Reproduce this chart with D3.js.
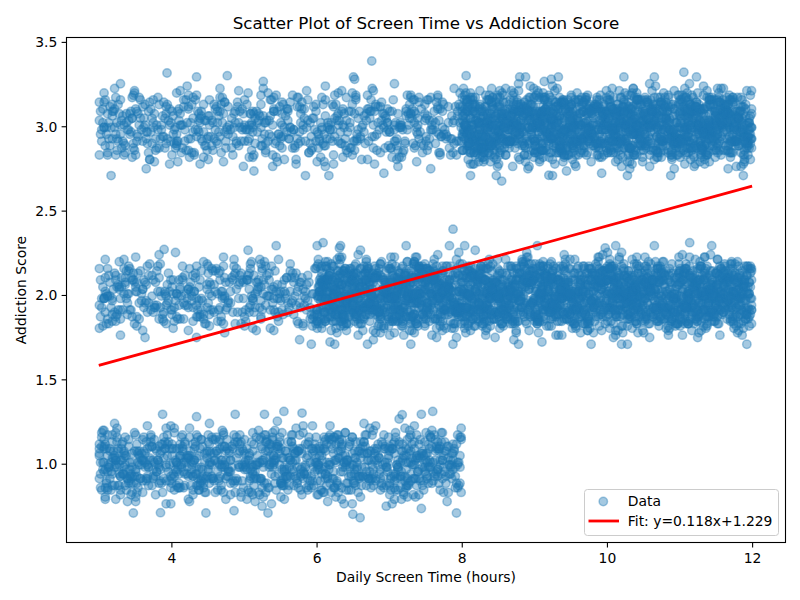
<!DOCTYPE html>
<html><head><meta charset="utf-8">
<script src="https://cdn.jsdelivr.net/npm/d3@7"></script>
<style>body{margin:0;background:#fff}svg text{font-family:"DejaVu Sans",sans-serif;fill:#000}</style>
</head><body>
<svg id="chart" width="800" height="600"></svg>
<script>
// ---- data ----
const titleText = "Scatter Plot of Screen Time vs Addiction Score";
const xLabel = "Daily Screen Time (hours)";
const yLabel = "Addiction Score";
const xTicks = [4, 6, 8, 10, 12];
const yTicks = [1.0, 1.5, 2.0, 2.5, 3.0, 3.5];
const xLimits = [2.555, 12.46];
const yLimits = [0.533, 3.526];
const fitSlope = 0.118;
const fitIntercept = 1.229;
const fitRange = [3, 12];
const legendLabels = ["Data", "Fit: y=0.118x+1.229"];
const scoreLevels = [1, 2, 3];
const firstHour = 3;
// codes: x char = position inside a one-hour segment, y char = deviation from the score level
const xCode = "0Aaj1Bb2Ccm3Dd4Eeh5Ff6Ggo7Hp8Irk9JsKtLnuMvNwOixPyQzRqSTUVWXlYZ";
const yCode = "01234ABCDEFGHIJKLMabcdefghijklmnopqrstuvwxyzNOPQRSTUVWXYZ56789";
const yStep = 0.0136;

// score 1 : hours 3-8
const score1X = [
"30aRfLxV8U b5GJn2QyW9 kE7tZ1CpDi X4Svc6HmB0 uNgTeKzA3F 8Iw1PrYdM5 oj2V9EsaW4 l6BqRx3OhG J0ZcN7LyfT 2dHkXs8EzQ 5mYbUg1KvC 9rAp4SiO6j eWwMu3FxIn 7hPaZ2DtLq 1yG4lVoB8R",
"cT6fJ0wNk3 sE9Qg5ArXm i2UdK7zHbY vO1jS8eCp4 MaF6xnWvtG 0qLh9BuR5k ZfI2oNc7Vy 4DsP1iTgXu bKe0Yw5mJr xwzOl9EaS6 hU7cG2tFqN 1pWk4BvZdo Lo6yAilMr3 Qg9Tn5CsHe u2XbI7jPz4",
"J0ZcN7LyfT 2dHkXs8EzQ 5mYbUg1KvC 9rAp4SiO6j eWwMu3FxIn 7hPaZ2DtLq 1yG4lVoB8R cT6fJ0wNk3 sE9Qg5ArXm i2UdK7zHbY vO1jS8eCp4 MaF6xnWvtG 0qLh9BuR5k ZfI2oNc7Vy 4DsP1iTgXu",
"bKe0Yw5mJr xwzOl9EaS6 hU7cG2tFqN 1pWk4BvZdo Lo6yAilMr3 Qg9Tn5CsHe u2XbI7jPz4 30aRfLxV8U b5GJn2QyW9 kE7tZ1CpDi X4Svc6HmB0 uNgTeKzA3F 8Iw1PrYdM5 oj2V9EsaW4 l6BqRx3OhG",
"X4Svc6HmB0 uNgTeKzA3F 8Iw1PrYdM5 oj2V9EsaW4 l6BqRx3OhG J0ZcN7LyfT 2dHkXs8EzQ 5mYbUg1KvC 9rAp4SiO6j eWwMu3FxIn 7hPaZ2DtLq 1yG4lVoB8R cT6fJ0wNk3 sE9Qg5ArXm i2UdK7zHbY"
];
const score1Y = [
"dtNliaowrg eMynsqjhmv kPfoctlgpu zKemsphnkv rlbVdgoiwt nEujxsmqfh gOjtalqufo wsLknhpydm crQgleotiv zdnJqshwmj obtfykupgl hNcimsdwrn tIpglzvkeo uinyhbsmfr xMqojtgvle",
"talwrgodzi myesqbnhvj ucplgxoktf hznkvasmep wboigyltrd qfxmscnuhj luaqtozgfj pnyhdmwksb ixoetlvcgr smjawnqhzd kylugpfotb ncrwhmxsid oezktlagpv rbmfsnyhui jvlcgxoteq",
"pnyhdmwksb ixoetlvcgr smjawnqhzd kylugpfotb ncrwhmxsid oezktlagpv rbmfsnyhui jvlcgxoteq dtNliaowrg eMynsqjhmv kPfoctlgpu zKemsphnkv rlbVdgoiwt nEujxsmqfh gOjtalqufo",
"wsLknhpydm crQgleotiv zdnJqshwmj obtfykupgl hNcimsdwrn tIpglzvkeo uinyhbsmfr xMqojtgvle talwrgodzi myesqbnhvj ucplgxoktf hznkvasmep wboigyltrd qfxmscnuhj luaqtozgfj",
"ncrwhmxsid oezktlagpv rbmfsnyhui jvlcgxoteq dtNliaowrg eMynsqjhmv kPfoctlgpu zKemsphnkv rlbVdgoiwt nEujxsmqfh gOjtalqufo wsLknhpydm crQgleotiv zdnJqshwmj obtfykupgl"
];
const score1XMore = [
"cT6fJ0wNk3 sE9Qg5ArXm i2UdK7zHbY vO1jS8eCp4 MaF6xnWvtG 0qLh9BuR5k 1pWk4BvZdo",
"30aRfLxV8U b5GJn2QyW9 kE7tZ1CpDi X4Svc6HmB0 uNgTeKzA3F 8Iw1PrYdM5 xwzOl9EaS6",
"bKe0Yw5mJr xwzOl9EaS6 hU7cG2tFqN 1pWk4BvZdo Lo6yAilMr3 Qg9Tn5CsHe 2dHkXs8EzQ",
"J0ZcN7LyfT 2dHkXs8EzQ 5mYbUg1KvC 9rAp4SiO6j eWwMu3FxIn 7hPaZ2DtLq Lo6yAilMr3",
"vO1jS8eCp4 MaF6xnWvtG 0qLh9BuR5k ZfI2oNc7Vy 4DsP1iTgXu bKe0Yw5mJr kE7tZ1CpDi"
];
const score1YMore = [
"talwrgodzi myesqbnhvj ucplgxoktf hznkvasmep wboigyltrd qfxmscnuhj OMPLNKQIRJ",
"dtNliaowrg eMynsqjhmv kPfoctlgpu zKemsphnkv rlbVdgoiwt nEujxsmqfh KOMNLRJPFU",
"wsLknhpydm crQgleotiv zdnJqshwmj obtfykupgl hNcimsdwrn tIpglzvkeo NMOLQKSHNM",
"pnyhdmwksb ixoetlvcgr smjawnqhzd kylugpfotb ncrwhmxsid oezktlagpv LNKOMPHRIQ",
"hNcimsdwrn tIpglzvkeo uinyhbsmfr xMqojtgvle talwrgodzi myesqbnhvj NLMOPKTGMN"
];

// score 2 : hours 3-12
const score2X = [
"hU7cG2tFqN 1pWk4BvZdo Lo6yAilMr3 Qg9Tn5CsHe u2XbI7jPz4 30aRfLxV8U b5GJn2QyW9 kE7tZ1CpDi X4Svc6HmB0 uNgTeKzA3F",
"cT6fJ0wNk3 sE9Qg5ArXm i2UdK7zHbY vO1jS8eCp4 MaF6xnWvtG 0qLh9BuR5k ZfI2oNc7Vy 4DsP1iTgXu bKe0Yw5mJr xwzOl9EaS6",
"kE7tZ1CpDi X4Svc6HmB0 uNgTeKzA3F 8Iw1PrYdM5 oj2V9EsaW4 l6BqRx3OhG J0ZcN7LyfT 2dHkXs8EzQ 5mYbUg1KvC 9rAp4SiO6j",
"uNgTeKzA3F 8Iw1PrYdM5 oj2V9EsaW4 l6BqRx3OhG J0ZcN7LyfT 2dHkXs8EzQ 5mYbUg1KvC 9rAp4SiO6j eWwMu3FxIn 7hPaZ2DtLq 1yG4lVoB8R cT6fJ0wNk3 sE9Qg5ArXm i2UdK7zHbY vO1jS8eCp4 MaF6xnWvtG 0qLh9BuR5k ZfI2oNc7Vy 4DsP1iTgXu bKe0Yw5mJr xwzOl9EaS6 hU7cG2tFqN 1pWk4BvZdo Lo6yAilMr3 Qg9Tn5CsHe u2XbI7jPz4 30aRfLxV8U b5GJn2QyW9 kE7tZ1CpDi X4Svc6HmB0",
"9rAp4SiO6j eWwMu3FxIn 7hPaZ2DtLq 1yG4lVoB8R cT6fJ0wNk3 sE9Qg5ArXm i2UdK7zHbY vO1jS8eCp4 MaF6xnWvtG 0qLh9BuR5k ZfI2oNc7Vy 4DsP1iTgXu bKe0Yw5mJr xwzOl9EaS6 hU7cG2tFqN 1pWk4BvZdo Lo6yAilMr3 Qg9Tn5CsHe u2XbI7jPz4 30aRfLxV8U b5GJn2QyW9 kE7tZ1CpDi X4Svc6HmB0 uNgTeKzA3F 8Iw1PrYdM5 oj2V9EsaW4 l6BqRx3OhG J0ZcN7LyfT 2dHkXs8EzQ 5mYbUg1KvC",
"vO1jS8eCp4 MaF6xnWvtG 0qLh9BuR5k ZfI2oNc7Vy 4DsP1iTgXu bKe0Yw5mJr xwzOl9EaS6 hU7cG2tFqN 1pWk4BvZdo Lo6yAilMr3 Qg9Tn5CsHe u2XbI7jPz4 30aRfLxV8U b5GJn2QyW9 kE7tZ1CpDi X4Svc6HmB0 uNgTeKzA3F 8Iw1PrYdM5 oj2V9EsaW4 l6BqRx3OhG J0ZcN7LyfT 2dHkXs8EzQ 5mYbUg1KvC 9rAp4SiO6j eWwMu3FxIn 7hPaZ2DtLq 1yG4lVoB8R cT6fJ0wNk3 sE9Qg5ArXm i2UdK7zHbY",
"hU7cG2tFqN 1pWk4BvZdo Lo6yAilMr3 Qg9Tn5CsHe u2XbI7jPz4 30aRfLxV8U b5GJn2QyW9 kE7tZ1CpDi X4Svc6HmB0 uNgTeKzA3F 8Iw1PrYdM5 oj2V9EsaW4 l6BqRx3OhG J0ZcN7LyfT 2dHkXs8EzQ 5mYbUg1KvC 9rAp4SiO6j eWwMu3FxIn 7hPaZ2DtLq 1yG4lVoB8R cT6fJ0wNk3 sE9Qg5ArXm i2UdK7zHbY vO1jS8eCp4 MaF6xnWvtG 0qLh9BuR5k ZfI2oNc7Vy 4DsP1iTgXu bKe0Yw5mJr xwzOl9EaS6",
"kE7tZ1CpDi X4Svc6HmB0 uNgTeKzA3F 8Iw1PrYdM5 oj2V9EsaW4 l6BqRx3OhG J0ZcN7LyfT 2dHkXs8EzQ 5mYbUg1KvC 9rAp4SiO6j eWwMu3FxIn 7hPaZ2DtLq 1yG4lVoB8R cT6fJ0wNk3 sE9Qg5ArXm i2UdK7zHbY vO1jS8eCp4 MaF6xnWvtG 0qLh9BuR5k ZfI2oNc7Vy 4DsP1iTgXu bKe0Yw5mJr xwzOl9EaS6 hU7cG2tFqN 1pWk4BvZdo Lo6yAilMr3 Qg9Tn5CsHe u2XbI7jPz4 30aRfLxV8U b5GJn2QyW9",
"2dHkXs8EzQ 5mYbUg1KvC 9rAp4SiO6j eWwMu3FxIn 7hPaZ2DtLq 1yG4lVoB8R cT6fJ0wNk3 sE9Qg5ArXm i2UdK7zHbY vO1jS8eCp4 MaF6xnWvtG 0qLh9BuR5k ZfI2oNc7Vy 4DsP1iTgXu bKe0Yw5mJr xwzOl9EaS6 hU7cG2tFqN 1pWk4BvZdo Lo6yAilMr3 Qg9Tn5CsHe u2XbI7jPz4 30aRfLxV8U b5GJn2QyW9 kE7tZ1CpDi X4Svc6HmB0 uNgTeKzA3F 8Iw1PrYdM5 oj2V9EsaW4 l6BqRx3OhG J0ZcN7LyfT"
];
const score2Y = [
"qfxmscnuhj luaqtozgfj pnyhdmwksb ixoetlvcgr smjawnqhzd kylugpfotb ncrwhmxsid oezktlagpv rbmfsnyhui jvlcgxoteq",
"talwrgodzi myesqbnhvj ucplgxoktf hznkvasmep wboigyltrd qfxmscnuhj luaqtozgfj pnyhdmwksb ixoetlvcgr smjawnqhzd",
"kylugpfotb ncrwhmxsid oezktlagpv rbmfsnyhui jvlcgxoteq dtNliaowrg eMynsqjhmv kPfoctlgpu zKemsphnkv rlbVdgoiwt",
"ixoetlvcgr smjawnqhzd kylugpfotb ncrwhmxsid oezktlagpv rbmfsnyhui jvlcgxoteq dtNliaowrg eMynsqjhmv kPfoctlgpu zKemsphnkv rlbVdgoiwt nEujxsmqfh gOjtalqufo wsLknhpydm crQgleotiv zdnJqshwmj obtfykupgl hNcimsdwrn tIpglzvkeo uinyhbsmfr xMqojtgvle talwrgodzi myesqbnhvj ucplgxoktf hznkvasmep wboigyltrd qfxmscnuhj luaqtozgfj pnyhdmwksb",
"eMynsqjhmv kPfoctlgpu zKemsphnkv rlbVdgoiwt nEujxsmqfh gOjtalqufo wsLknhpydm crQgleotiv zdnJqshwmj obtfykupgl hNcimsdwrn tIpglzvkeo uinyhbsmfr xMqojtgvle talwrgodzi myesqbnhvj ucplgxoktf hznkvasmep wboigyltrd qfxmscnuhj luaqtozgfj pnyhdmwksb ixoetlvcgr smjawnqhzd kylugpfotb ncrwhmxsid oezktlagpv rbmfsnyhui jvlcgxoteq dtNliaowrg",
"zdnJqshwmj obtfykupgl hNcimsdwrn tIpglzvkeo uinyhbsmfr xMqojtgvle talwrgodzi myesqbnhvj ucplgxoktf hznkvasmep wboigyltrd qfxmscnuhj luaqtozgfj pnyhdmwksb ixoetlvcgr smjawnqhzd kylugpfotb ncrwhmxsid oezktlagpv rbmfsnyhui jvlcgxoteq dtNliaowrg eMynsqjhmv kPfoctlgpu zKemsphnkv rlbVdgoiwt nEujxsmqfh gOjtalqufo wsLknhpydm crQgleotiv",
"myesqbnhvj ucplgxoktf hznkvasmep wboigyltrd qfxmscnuhj luaqtozgfj pnyhdmwksb ixoetlvcgr smjawnqhzd kylugpfotb ncrwhmxsid oezktlagpv rbmfsnyhui jvlcgxoteq dtNliaowrg eMynsqjhmv kPfoctlgpu zKemsphnkv rlbVdgoiwt nEujxsmqfh gOjtalqufo wsLknhpydm crQgleotiv zdnJqshwmj obtfykupgl hNcimsdwrn tIpglzvkeo uinyhbsmfr xMqojtgvle talwrgodzi",
"smjawnqhzd kylugpfotb ncrwhmxsid oezktlagpv rbmfsnyhui jvlcgxoteq dtNliaowrg eMynsqjhmv kPfoctlgpu zKemsphnkv rlbVdgoiwt nEujxsmqfh gOjtalqufo wsLknhpydm crQgleotiv zdnJqshwmj obtfykupgl hNcimsdwrn tIpglzvkeo uinyhbsmfr xMqojtgvle talwrgodzi myesqbnhvj ucplgxoktf hznkvasmep wboigyltrd qfxmscnuhj luaqtozgfj pnyhdmwksb ixoetlvcgr",
"kPfoctlgpu zKemsphnkv rlbVdgoiwt nEujxsmqfh gOjtalqufo wsLknhpydm crQgleotiv zdnJqshwmj obtfykupgl hNcimsdwrn tIpglzvkeo uinyhbsmfr xMqojtgvle talwrgodzi myesqbnhvj ucplgxoktf hznkvasmep wboigyltrd qfxmscnuhj luaqtozgfj pnyhdmwksb ixoetlvcgr smjawnqhzd kylugpfotb ncrwhmxsid oezktlagpv rbmfsnyhui jvlcgxoteq dtNliaowrg eMynsqjhmv"
];
const score2XMore = [
"8Iw1PrYdM5 oj2V9EsaW4 l6BqRx3OhG 0qLh9BuR5k",
"hU7cG2tFqN 1pWk4BvZdo Lo6yAilMr3 9rAp4SiO6j",
"eWwMu3FxIn 7hPaZ2DtLq 1yG4lVoB8R u2XbI7jPz4",
"cT6fJ0wNk3 sE9Qg5ArXm i2UdK7zHbY vO1jS8eCp4 MaF6xnWvtG 0qLh9BuR5k ZfI2oNc7Vy 4DsP1iTgXu bKe0Yw5mJr xwzOl9EaS6 hU7cG2tFqN 1pWk4BvZdo Lo6yAilMr3 Qg9Tn5CsHe u2XbI7jPz4 uNgTeKzA3F J0ZcN7LyfT",
"30aRfLxV8U b5GJn2QyW9 kE7tZ1CpDi X4Svc6HmB0 uNgTeKzA3F 8Iw1PrYdM5 oj2V9EsaW4 l6BqRx3OhG J0ZcN7LyfT 2dHkXs8EzQ 5mYbUg1KvC 9rAp4SiO6j eWwMu3FxIn 7hPaZ2DtLq 1yG4lVoB8R MaF6xnWvtG Lo6yAilMr3",
"cT6fJ0wNk3 sE9Qg5ArXm i2UdK7zHbY vO1jS8eCp4 MaF6xnWvtG 0qLh9BuR5k ZfI2oNc7Vy 4DsP1iTgXu bKe0Yw5mJr xwzOl9EaS6 hU7cG2tFqN 1pWk4BvZdo Lo6yAilMr3 Qg9Tn5CsHe u2XbI7jPz4 30aRfLxV8U l6BqRx3OhG",
"30aRfLxV8U b5GJn2QyW9 kE7tZ1CpDi X4Svc6HmB0 uNgTeKzA3F 8Iw1PrYdM5 oj2V9EsaW4 l6BqRx3OhG J0ZcN7LyfT 2dHkXs8EzQ 5mYbUg1KvC 9rAp4SiO6j eWwMu3FxIn 7hPaZ2DtLq 1yG4lVoB8R 4DsP1iTgXu i2UdK7zHbY",
"cT6fJ0wNk3 sE9Qg5ArXm i2UdK7zHbY vO1jS8eCp4 MaF6xnWvtG 0qLh9BuR5k ZfI2oNc7Vy 4DsP1iTgXu bKe0Yw5mJr xwzOl9EaS6 hU7cG2tFqN 1pWk4BvZdo Lo6yAilMr3 Qg9Tn5CsHe u2XbI7jPz4 7hPaZ2DtLq X4Svc6HmB0",
"30aRfLxV8U b5GJn2QyW9 kE7tZ1CpDi X4Svc6HmB0 uNgTeKzA3F 8Iw1PrYdM5 oj2V9EsaW4 l6BqRx3OhG J0ZcN7LyfT 2dHkXs8EzQ 5mYbUg1KvC 9rAp4SiO6j eWwMu3FxIn 7hPaZ2DtLq 1yG4lVoB8R xwzOl9EaS6 Qg9Tn5CsHe"
];
const score2YMore = [
"dtNliaowrg eMynsqjhmv kPfoctlgpu LNKOMPHRIQ",
"kylugpfotb ncrwhmxsid oezktlagpv MNLOKPJQHS",
"nEujxsmqfh gOjtalqufo wsLknhpydm NLMOPKTGMN",
"ncrwhmxsid oezktlagpv rbmfsnyhui jvlcgxoteq dtNliaowrg eMynsqjhmv kPfoctlgpu zKemsphnkv rlbVdgoiwt nEujxsmqfh gOjtalqufo wsLknhpydm crQgleotiv zdnJqshwmj obtfykupgl KOMNLRJPFU NLMOPKTGMN",
"rlbVdgoiwt nEujxsmqfh gOjtalqufo wsLknhpydm crQgleotiv zdnJqshwmj obtfykupgl hNcimsdwrn tIpglzvkeo uinyhbsmfr xMqojtgvle talwrgodzi myesqbnhvj ucplgxoktf hznkvasmep LNKOMPHRIQ NMOLQKSHNM",
"wboigyltrd qfxmscnuhj luaqtozgfj pnyhdmwksb ixoetlvcgr smjawnqhzd kylugpfotb ncrwhmxsid oezktlagpv rbmfsnyhui jvlcgxoteq dtNliaowrg eMynsqjhmv kPfoctlgpu zKemsphnkv MNLOKPJQHS NLMOPKTGMN",
"hNcimsdwrn tIpglzvkeo uinyhbsmfr xMqojtgvle talwrgodzi myesqbnhvj ucplgxoktf hznkvasmep wboigyltrd qfxmscnuhj luaqtozgfj pnyhdmwksb ixoetlvcgr smjawnqhzd kylugpfotb OMPLNKQIRJ KOMNLRJPFU",
"rbmfsnyhui jvlcgxoteq dtNliaowrg eMynsqjhmv kPfoctlgpu zKemsphnkv rlbVdgoiwt nEujxsmqfh gOjtalqufo wsLknhpydm crQgleotiv zdnJqshwmj obtfykupgl hNcimsdwrn tIpglzvkeo NMOLQKSHNM MNLOKPJQHS",
"ucplgxoktf hznkvasmep wboigyltrd qfxmscnuhj luaqtozgfj pnyhdmwksb ixoetlvcgr smjawnqhzd kylugpfotb ncrwhmxsid oezktlagpv rbmfsnyhui jvlcgxoteq dtNliaowrg eMynsqjhmv LNKOMPHRIQ OMPLNKQIRJ"
];

// score 3 : hours 3-12
const score3X = [
"30aRfLxV8U b5GJn2QyW9 kE7tZ1CpDi X4Svc6HmB0 uNgTeKzA3F 8Iw1PrYdM5 oj2V9EsaW4 l6BqRx3OhG J0ZcN7LyfT 2dHkXs8EzQ",
"5mYbUg1KvC 9rAp4SiO6j eWwMu3FxIn 7hPaZ2DtLq 1yG4lVoB8R cT6fJ0wNk3 sE9Qg5ArXm i2UdK7zHbY vO1jS8eCp4 MaF6xnWvtG",
"0qLh9BuR5k ZfI2oNc7Vy 4DsP1iTgXu bKe0Yw5mJr xwzOl9EaS6 hU7cG2tFqN 1pWk4BvZdo Lo6yAilMr3 Qg9Tn5CsHe u2XbI7jPz4",
"8Iw1PrYdM5 oj2V9EsaW4 l6BqRx3OhG J0ZcN7LyfT 2dHkXs8EzQ 5mYbUg1KvC 9rAp4SiO6j eWwMu3FxIn 7hPaZ2DtLq 1yG4lVoB8R",
"cT6fJ0wNk3 sE9Qg5ArXm i2UdK7zHbY vO1jS8eCp4 MaF6xnWvtG 0qLh9BuR5k ZfI2oNc7Vy 4DsP1iTgXu bKe0Yw5mJr xwzOl9EaS6",
"30aRfLxV8U b5GJn2QyW9 kE7tZ1CpDi X4Svc6HmB0 uNgTeKzA3F 8Iw1PrYdM5 oj2V9EsaW4 l6BqRx3OhG J0ZcN7LyfT 2dHkXs8EzQ 5mYbUg1KvC 9rAp4SiO6j eWwMu3FxIn 7hPaZ2DtLq 1yG4lVoB8R cT6fJ0wNk3 sE9Qg5ArXm i2UdK7zHbY vO1jS8eCp4 MaF6xnWvtG 0qLh9BuR5k ZfI2oNc7Vy 4DsP1iTgXu bKe0Yw5mJr xwzOl9EaS6 hU7cG2tFqN 1pWk4BvZdo Lo6yAilMr3 Qg9Tn5CsHe u2XbI7jPz4",
"l6BqRx3OhG J0ZcN7LyfT 2dHkXs8EzQ 5mYbUg1KvC 9rAp4SiO6j eWwMu3FxIn 7hPaZ2DtLq 1yG4lVoB8R cT6fJ0wNk3 sE9Qg5ArXm i2UdK7zHbY vO1jS8eCp4 MaF6xnWvtG 0qLh9BuR5k ZfI2oNc7Vy 4DsP1iTgXu bKe0Yw5mJr xwzOl9EaS6 hU7cG2tFqN 1pWk4BvZdo Lo6yAilMr3 Qg9Tn5CsHe u2XbI7jPz4 30aRfLxV8U b5GJn2QyW9 kE7tZ1CpDi X4Svc6HmB0 uNgTeKzA3F 8Iw1PrYdM5 oj2V9EsaW4",
"1yG4lVoB8R cT6fJ0wNk3 sE9Qg5ArXm i2UdK7zHbY vO1jS8eCp4 MaF6xnWvtG 0qLh9BuR5k ZfI2oNc7Vy 4DsP1iTgXu bKe0Yw5mJr xwzOl9EaS6 hU7cG2tFqN 1pWk4BvZdo Lo6yAilMr3 Qg9Tn5CsHe u2XbI7jPz4 30aRfLxV8U b5GJn2QyW9 kE7tZ1CpDi X4Svc6HmB0 uNgTeKzA3F 8Iw1PrYdM5 oj2V9EsaW4 l6BqRx3OhG J0ZcN7LyfT 2dHkXs8EzQ 5mYbUg1KvC 9rAp4SiO6j eWwMu3FxIn 7hPaZ2DtLq",
"ZfI2oNc7Vy 4DsP1iTgXu bKe0Yw5mJr xwzOl9EaS6 hU7cG2tFqN 1pWk4BvZdo Lo6yAilMr3 Qg9Tn5CsHe u2XbI7jPz4 30aRfLxV8U b5GJn2QyW9 kE7tZ1CpDi X4Svc6HmB0 uNgTeKzA3F 8Iw1PrYdM5 oj2V9EsaW4 l6BqRx3OhG J0ZcN7LyfT 2dHkXs8EzQ 5mYbUg1KvC 9rAp4SiO6j eWwMu3FxIn 7hPaZ2DtLq 1yG4lVoB8R cT6fJ0wNk3 sE9Qg5ArXm i2UdK7zHbY vO1jS8eCp4 MaF6xnWvtG 0qLh9BuR5k"
];
const score3Y = [
"talwrgodzi myesqbnhvj ucplgxoktf hznkvasmep wboigyltrd qfxmscnuhj luaqtozgfj pnyhdmwksb ixoetlvcgr smjawnqhzd",
"kylugpfotb ncrwhmxsid oezktlagpv rbmfsnyhui jvlcgxoteq dtNliaowrg eMynsqjhmv kPfoctlgpu zKemsphnkv rlbVdgoiwt",
"nEujxsmqfh gOjtalqufo wsLknhpydm crQgleotiv zdnJqshwmj obtfykupgl hNcimsdwrn tIpglzvkeo uinyhbsmfr xMqojtgvle",
"dtNliaowrg eMynsqjhmv kPfoctlgpu zKemsphnkv rlbVdgoiwt nEujxsmqfh gOjtalqufo wsLknhpydm crQgleotiv zdnJqshwmj",
"obtfykupgl hNcimsdwrn tIpglzvkeo uinyhbsmfr xMqojtgvle talwrgodzi myesqbnhvj ucplgxoktf hznkvasmep wboigyltrd",
"hznkvasmep wboigyltrd qfxmscnuhj luaqtozgfj pnyhdmwksb ixoetlvcgr smjawnqhzd kylugpfotb ncrwhmxsid oezktlagpv rbmfsnyhui jvlcgxoteq dtNliaowrg eMynsqjhmv kPfoctlgpu zKemsphnkv rlbVdgoiwt nEujxsmqfh gOjtalqufo wsLknhpydm crQgleotiv zdnJqshwmj obtfykupgl hNcimsdwrn tIpglzvkeo uinyhbsmfr xMqojtgvle talwrgodzi myesqbnhvj ucplgxoktf",
"ncrwhmxsid oezktlagpv rbmfsnyhui jvlcgxoteq dtNliaowrg eMynsqjhmv kPfoctlgpu zKemsphnkv rlbVdgoiwt nEujxsmqfh gOjtalqufo wsLknhpydm crQgleotiv zdnJqshwmj obtfykupgl hNcimsdwrn tIpglzvkeo uinyhbsmfr xMqojtgvle talwrgodzi myesqbnhvj ucplgxoktf hznkvasmep wboigyltrd qfxmscnuhj luaqtozgfj pnyhdmwksb ixoetlvcgr smjawnqhzd kylugpfotb",
"rlbVdgoiwt nEujxsmqfh gOjtalqufo wsLknhpydm crQgleotiv zdnJqshwmj obtfykupgl hNcimsdwrn tIpglzvkeo uinyhbsmfr xMqojtgvle talwrgodzi myesqbnhvj ucplgxoktf hznkvasmep wboigyltrd qfxmscnuhj luaqtozgfj pnyhdmwksb ixoetlvcgr smjawnqhzd kylugpfotb ncrwhmxsid oezktlagpv rbmfsnyhui jvlcgxoteq dtNliaowrg eMynsqjhmv kPfoctlgpu zKemsphnkv",
"hNcimsdwrn tIpglzvkeo uinyhbsmfr xMqojtgvle talwrgodzi myesqbnhvj ucplgxoktf hznkvasmep wboigyltrd qfxmscnuhj luaqtozgfj pnyhdmwksb ixoetlvcgr smjawnqhzd kylugpfotb ncrwhmxsid oezktlagpv rbmfsnyhui jvlcgxoteq dtNliaowrg eMynsqjhmv kPfoctlgpu zKemsphnkv rlbVdgoiwt nEujxsmqfh gOjtalqufo wsLknhpydm crQgleotiv zdnJqshwmj obtfykupgl"
];
const score3XMore = [
"5mYbUg1KvC 9rAp4SiO6j eWwMu3FxIn 8Iw1PrYdM5",
"0qLh9BuR5k ZfI2oNc7Vy 4DsP1iTgXu 1pWk4BvZdo",
"30aRfLxV8U b5GJn2QyW9 kE7tZ1CpDi vO1jS8eCp4",
"cT6fJ0wNk3 sE9Qg5ArXm i2UdK7zHbY b5GJn2QyW9",
"hU7cG2tFqN 1pWk4BvZdo Lo6yAilMr3 5mYbUg1KvC",
"30aRfLxV8U b5GJn2QyW9 kE7tZ1CpDi X4Svc6HmB0 uNgTeKzA3F 8Iw1PrYdM5 oj2V9EsaW4 l6BqRx3OhG J0ZcN7LyfT 2dHkXs8EzQ 5mYbUg1KvC 9rAp4SiO6j eWwMu3FxIn 7hPaZ2DtLq 1yG4lVoB8R ZfI2oNc7Vy sE9Qg5ArXm",
"cT6fJ0wNk3 sE9Qg5ArXm i2UdK7zHbY vO1jS8eCp4 MaF6xnWvtG 0qLh9BuR5k ZfI2oNc7Vy 4DsP1iTgXu bKe0Yw5mJr xwzOl9EaS6 hU7cG2tFqN 1pWk4BvZdo Lo6yAilMr3 Qg9Tn5CsHe u2XbI7jPz4 kE7tZ1CpDi oj2V9EsaW4",
"30aRfLxV8U b5GJn2QyW9 kE7tZ1CpDi X4Svc6HmB0 uNgTeKzA3F 8Iw1PrYdM5 oj2V9EsaW4 l6BqRx3OhG J0ZcN7LyfT 2dHkXs8EzQ 5mYbUg1KvC 9rAp4SiO6j eWwMu3FxIn 7hPaZ2DtLq 1yG4lVoB8R hU7cG2tFqN MaF6xnWvtG",
"cT6fJ0wNk3 sE9Qg5ArXm i2UdK7zHbY vO1jS8eCp4 MaF6xnWvtG 0qLh9BuR5k ZfI2oNc7Vy 4DsP1iTgXu bKe0Yw5mJr xwzOl9EaS6 hU7cG2tFqN 1pWk4BvZdo Lo6yAilMr3 Qg9Tn5CsHe u2XbI7jPz4 J0ZcN7LyfT 5mYbUg1KvC"
];
const score3YMore = [
"nEujxsmqfh gOjtalqufo wsLknhpydm MNLOKPJQHS",
"talwrgodzi myesqbnhvj ucplgxoktf OMPLNKQIRJ",
"kylugpfotb ncrwhmxsid oezktlagpv NLMOPKTGMN",
"obtfykupgl hNcimsdwrn tIpglzvkeo KOMNLRJPFU",
"qfxmscnuhj luaqtozgfj pnyhdmwksb NMOLQKSHNM",
"dtNliaowrg eMynsqjhmv kPfoctlgpu zKemsphnkv rlbVdgoiwt nEujxsmqfh gOjtalqufo wsLknhpydm crQgleotiv zdnJqshwmj obtfykupgl hNcimsdwrn tIpglzvkeo uinyhbsmfr xMqojtgvle MNLOKPJQHS OMPLNKQIRJ",
"talwrgodzi myesqbnhvj ucplgxoktf hznkvasmep wboigyltrd qfxmscnuhj luaqtozgfj pnyhdmwksb ixoetlvcgr smjawnqhzd kylugpfotb ncrwhmxsid oezktlagpv rbmfsnyhui jvlcgxoteq NLMOPKTGMN KOMNLRJPFU",
"pnyhdmwksb ixoetlvcgr smjawnqhzd kylugpfotb ncrwhmxsid oezktlagpv rbmfsnyhui jvlcgxoteq dtNliaowrg eMynsqjhmv kPfoctlgpu zKemsphnkv rlbVdgoiwt nEujxsmqfh gOjtalqufo NMOLQKSHNM LNKOMPHRIQ",
"wsLknhpydm crQgleotiv zdnJqshwmj obtfykupgl hNcimsdwrn tIpglzvkeo uinyhbsmfr xMqojtgvle talwrgodzi myesqbnhvj ucplgxoktf hznkvasmep wboigyltrd qfxmscnuhj luaqtozgfj OMPLNKQIRJ MNLOKPJQHS"
];

// isolated outliers
const outlierX = [6.76, 3.94, 4.77, 8.55, 9.20, 11.06, 8.06, 7.88, 6.09, 11.14, 3.90, 7.60, 5.55, 5.80, 7.18, 6.60, 6.50, 3.85];
const outlierY = [3.387, 3.316, 3.300, 2.675, 2.710, 3.320, 3.300, 2.390, 2.310, 2.310, 2.270, 1.310, 1.310, 1.300, 1.290, 0.680, 0.700, 0.710];

// ---- decode ----
function decodeBand(xs, ys, level) {
  const out = [];
  xs.forEach((segX, k) => {
    const a = segX.replace(/\s+/g, ""), b = ys[k].replace(/\s+/g, "");
    const n = Math.min(a.length, b.length);
    for (let i = 0; i < n; i++) {
      const xi = xCode.indexOf(a[i]), yi = yCode.indexOf(b[i]);
      if (xi < 0 || yi < 0) continue;
      out.push({x: firstHour + k + (xi + 0.5) / xCode.length,
                y: level + (yi - (yCode.length - 1) / 2) * yStep});
    }
  });
  return out;
}
const points = [
  ...decodeBand(score1X, score1Y, scoreLevels[0]),
  ...decodeBand(score1XMore, score1YMore, scoreLevels[0]),
  ...decodeBand(score2X, score2Y, scoreLevels[1]),
  ...decodeBand(score2XMore, score2YMore, scoreLevels[1]),
  ...decodeBand(score3X, score3Y, scoreLevels[2]),
  ...decodeBand(score3XMore, score3YMore, scoreLevels[2]),
  ...outlierX.map((v, i) => ({x: v, y: outlierY[i]}))
];

// ---- layout ----
const plot = {left: 66.5, right: 785.5, top: 37.5, bottom: 542.5};
const svg = d3.select("#chart");
const x = d3.scaleLinear().domain(xLimits).range([plot.left, plot.right]);
const y = d3.scaleLinear().domain(yLimits).range([plot.bottom, plot.top]);
const blue = "#1f77b4";

svg.append("g").selectAll("circle").data(points).join("circle")
  .attr("cx", d => x(d.x)).attr("cy", d => y(d.y)).attr("r", 4.2)
  .attr("fill", blue).attr("fill-opacity", 0.4)
  .attr("stroke", blue).attr("stroke-opacity", 0.4).attr("stroke-width", 1.5);

const fitData = fitRange.map(v => ({x: v, y: fitSlope * v + fitIntercept}));
svg.append("path").datum(fitData)
  .attr("d", d3.line().x(d => x(d.x)).y(d => y(d.y)))
  .attr("fill", "none").attr("stroke", "#ff0000").attr("stroke-width", 2.8);

const xAxis = d3.axisBottom(x).tickValues(xTicks).tickFormat(d3.format("d")).tickSize(4.9).tickPadding(4.3);
const yAxis = d3.axisLeft(y).tickValues(yTicks).tickFormat(d3.format(".1f")).tickSize(4.9).tickPadding(4.3);
const gx = svg.append("g").attr("transform", `translate(0,${plot.bottom})`).call(xAxis);
const gy = svg.append("g").attr("transform", `translate(${plot.left},0)`).call(yAxis);
[gx, gy].forEach(g => {
  g.select(".domain").remove();
  g.selectAll(".tick line").attr("stroke", "#000").attr("stroke-width", 1.1);
  g.selectAll(".tick text").attr("font-size", "13.9px").attr("font-family", "DejaVu Sans").attr("fill", "#000");
});
gx.selectAll(".tick text").attr("dy", null).attr("y", 20.1);
gy.selectAll(".tick text").attr("dy", null).attr("y", 5);

svg.append("rect").attr("x", plot.left).attr("y", plot.top)
  .attr("width", plot.right - plot.left).attr("height", plot.bottom - plot.top)
  .attr("fill", "none").attr("stroke", "#000").attr("stroke-width", 1.1);

svg.append("text").attr("x", (plot.left + plot.right) / 2).attr("y", 28.5)
  .attr("text-anchor", "middle").attr("font-size", "16.7px").text(titleText);
svg.append("text").attr("x", (plot.left + plot.right) / 2).attr("y", 581.5)
  .attr("text-anchor", "middle").attr("font-size", "13.9px").text(xLabel);
svg.append("text").attr("transform", `translate(25.7,${(plot.top + plot.bottom) / 2}) rotate(-90)`)
  .attr("text-anchor", "middle").attr("font-size", "13.9px").text(yLabel);

const lg = svg.append("g");
lg.append("rect").attr("x", 584.5).attr("y", 489.5).attr("width", 194).attr("height", 46).attr("rx", 3)
  .attr("fill", "#fff").attr("fill-opacity", 0.8).attr("stroke", "#cccccc").attr("stroke-width", 1);
lg.append("circle").attr("cx", 603.3).attr("cy", 501.5).attr("r", 4.2)
  .attr("fill", blue).attr("fill-opacity", 0.4).attr("stroke", blue).attr("stroke-opacity", 0.4).attr("stroke-width", 1.5);
lg.append("line").attr("x1", 588.5).attr("x2", 619).attr("y1", 521).attr("y2", 521)
  .attr("stroke", "#ff0000").attr("stroke-width", 2.8);
lg.append("text").attr("x", 627.8).attr("y", 505.5).attr("font-size", "13.9px").text(legendLabels[0]);
lg.append("text").attr("x", 627.8).attr("y", 526).attr("font-size", "13.9px").text(legendLabels[1]);
</script>
</body></html>
